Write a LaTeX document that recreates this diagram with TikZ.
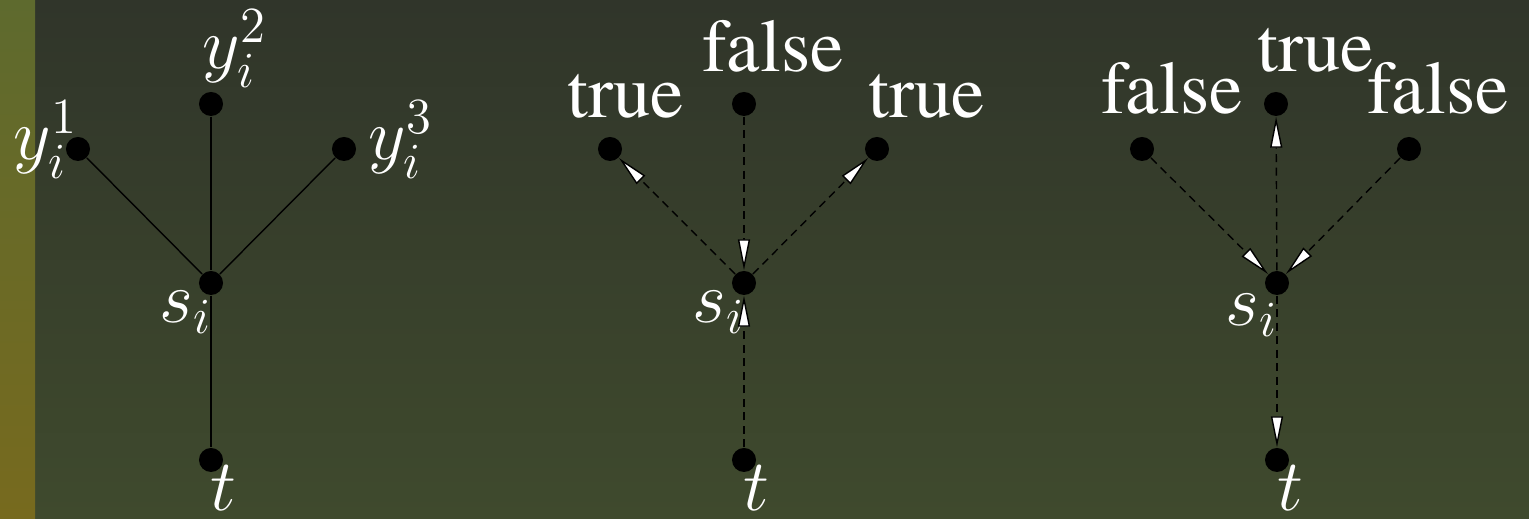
\documentclass[tikz,border=0pt]{standalone}
\usetikzlibrary{arrows.meta,positioning}
\definecolor{BgTop}{HTML}{30352A}
\definecolor{BgBottom}{HTML}{3F4A2D}
\definecolor{BarTop}{HTML}{5E6A2E}
\definecolor{BarBottom}{HTML}{776A1E}
\newcommand{\wordfont}{\fontencoding{T1}\fontfamily{ptm}}

\begin{document}
\begin{tikzpicture}[x=0.01cm, y=-0.01cm,
    dot/.style={circle, fill=black, minimum size=0.24cm, inner sep=0pt},
    lbl/.style={text=white, font=\wordfont\fontsize{21.3}{25}\selectfont, inner sep=0pt, anchor=base},
    mlbl/.style={lbl, anchor=base west},
    edge/.style={draw=black, line width=0.4pt},
    flow/.style={edge, dash pattern=on 0.08cm off 0.055cm, -{Triangle[length=0.31cm, width=0.12cm, fill=white, line width=0.4pt]}}
  ]
    % background
    \useasboundingbox (0,0) rectangle (1529,519);
    \shade[top color=BgTop, bottom color=BgBottom] (0,0) rectangle (1529,519);
    \shade[top color=BarTop, bottom color=BarBottom] (0,0) rectangle (35,519);

    % left graph
    \node[dot] (ya1) at (78,149) {};
    \node[dot] (ya2) at (211,104) {};
    \node[dot] (ya3) at (344,149) {};
    \node[dot] (sa) at (211,283) {};
    \node[dot] (ta) at (211,460) {};
    \node[mlbl] (la1) at (13,160) {$y_i^1$};
    \node[mlbl] (la2) at (202,69) {$y_i^2$};
    \node[mlbl] (la3) at (368,160) {$y_i^3$};
    \node[mlbl] (lsa) at (159,323) {$s_i$};
    \node[mlbl] (lta) at (210,511) {$t$};
    \draw[edge] (ya1) -- (sa);
    \draw[edge] (ya2) -- (sa);
    \draw[edge] (ya3) -- (sa);
    \draw[edge] (sa) -- (ta);

    % middle graph
    \node[dot] (yb1) at (610,149) {};
    \node[dot] (yb2) at (744,104) {};
    \node[dot] (yb3) at (877,149) {};
    \node[dot] (sb) at (744,283) {};
    \node[dot] (tb) at (744,460) {};
    \node[lbl] (lb1) at (626,118) {true};
    \node[lbl] (lb2) at (773,72) {false};
    \node[lbl] (lb3) at (927,118) {true};
    \node[mlbl] (lsb) at (692,323) {$s_i$};
    \node[mlbl] (ltb) at (743,511) {$t$};
    \draw[flow] (sb) -- (yb1);
    \draw[flow] (yb2) -- (sb);
    \draw[flow] (sb) -- (yb3);
    \draw[flow] (tb) -- (sb);

    % right graph
    \node[dot] (yc1) at (1142,149) {};
    \node[dot] (yc2) at (1276,104) {};
    \node[dot] (yc3) at (1409,149) {};
    \node[dot] (sc) at (1277,283) {};
    \node[dot] (tc) at (1277,460) {};
    \node[lbl] (lc1) at (1172,114) {false};
    \node[lbl] (lc2) at (1316,72) {true};
    \node[lbl] (lc3) at (1438,114) {false};
    \node[mlbl] (lsc) at (1225,326) {$s_i$};
    \node[mlbl] (ltc) at (1277,511) {$t$};
    \draw[flow] (yc1) -- (sc);
    \draw[flow] (sc) -- (yc2);
    \draw[flow] (yc3) -- (sc);
    \draw[flow] (sc) -- (tc);
\end{tikzpicture}
\end{document}
